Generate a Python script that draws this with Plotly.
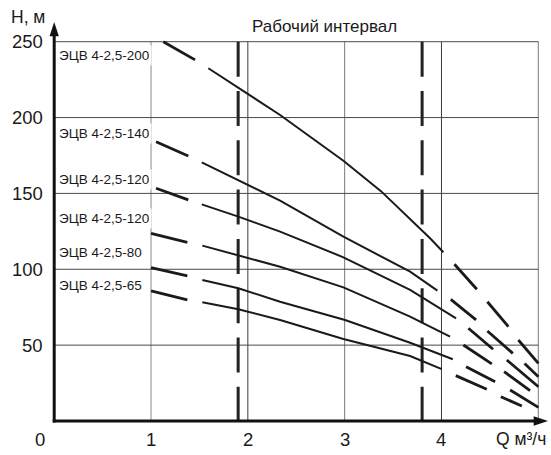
import plotly.graph_objects as go

# ---------------- data ----------------
x_tick_vals = [0, 1, 2, 3, 4]
x_tick_text = ["0", "1", "2", "3", "4"]
y_tick_vals = [50, 100, 150, 200, 250]
y_tick_text = ["50", "100", "150", "200", "250"]
grid_q = [1, 2, 3, 4, 5]
grid_h = [50, 100, 150, 200, 250]
q_max = 5
h_max = 250
interval_q = [1.9, 3.8]

names = ["ЭЦВ 4-2,5-200", "ЭЦВ 4-2,5-140", "ЭЦВ 4-2,5-120",
         "ЭЦВ 4-2,5-120", "ЭЦВ 4-2,5-80", "ЭЦВ 4-2,5-65"]
label_h = [240.8, 189.6, 158.9, 133.6, 110.9, 89.2]

# solid (working) parts of the curves
c200_solid_q = [1.592, 2.333, 2.987, 3.375, 3.882, 4.020]
c200_solid_h = [232.5, 201.7, 171.5, 151.5, 120.4, 111.2]
c140_solid_q = [1.524, 1.919, 2.333, 2.987, 3.676, 3.958]
c140_solid_h = [170.5, 158.4, 145.2, 121.5, 98.4, 85.9]
c120a_solid_q = [1.524, 1.902, 2.333, 2.987, 3.676, 4.151]
c120a_solid_h = [142.8, 134.7, 124.8, 107.9, 86.4, 67.7]
c120b_solid_q = [1.530, 1.902, 2.333, 2.987, 3.676, 3.882, 4.089]
c120b_solid_h = [115.6, 109.0, 101.7, 88.1, 68.8, 62.2, 55.6]
c80_solid_q = [1.530, 1.902, 2.333, 3.004, 3.676, 4.117]
c80_solid_h = [92.9, 87.5, 78.6, 66.6, 51.6, 40.7]
c65_solid_q = [1.530, 1.902, 2.333, 2.987, 3.676, 4.003]
c65_solid_h = [78.2, 73.6, 66.6, 54.0, 42.8, 34.2]

# dashed (out of range) parts: dash segments separated by None
c200_dash_q = [1.127, 1.455, None, 4.134, 4.365, None, 4.474, 4.691, None, 4.794, 5.001]
c200_dash_h = [250.0, 238.0, None, 103.3, 86.8, None, 78.6, 62.2, None, 53.4, 38.0]
c140_dash_q = [1.052, 1.385, None, 4.096, 4.357, None, 4.474, 4.737, None, 4.858, 5.001]
c140_dash_h = [184.1, 174.7, None, 80.2, 66.6, None, 59.3, 44.6, None, 37.9, 29.2]
c120a_dash_q = [1.052, 1.385, None, 4.278, 4.533, None, 4.675, 5.001]
c120a_dash_h = [153.4, 145.7, None, 61.1, 47.3, None, 40.2, 22.6]
c120b_dash_q = [1.000, 1.375, None, 4.226, 4.520, None, 4.647, 4.915]
c120b_dash_h = [123.7, 117.8, None, 50.1, 37.6, None, 32.5, 20.0]
c80_dash_q = [1.000, 1.375, None, 4.254, 4.554, None, 4.709, 5.001]
c80_dash_h = [101.1, 95.6, None, 35.8, 25.9, None, 20.4, 9.0]
c65_dash_q = [1.000, 1.375, None, 4.148, 4.468, None, 4.613, 4.830]
c65_dash_h = [85.7, 79.8, None, 29.9, 20.9, None, 16.0, 9.9]

solids = [(c200_solid_q, c200_solid_h), (c140_solid_q, c140_solid_h),
          (c120a_solid_q, c120a_solid_h), (c120b_solid_q, c120b_solid_h),
          (c80_solid_q, c80_solid_h), (c65_solid_q, c65_solid_h)]
dashes = [(c200_dash_q, c200_dash_h), (c140_dash_q, c140_dash_h),
          (c120a_dash_q, c120a_dash_h), (c120b_dash_q, c120b_dash_h),
          (c80_dash_q, c80_dash_h), (c65_dash_q, c65_dash_h)]

x_arrow_tip = 5.10
y_arrow_tip = 263

# ---------------- figure ----------------
FONT = "Liberation Sans, Arial, Helvetica, sans-serif"
INK = "#1a1a1a"
grid_q_colors = ["#8a8a8a", "#3c3c3c", "#7a7a7a", "#3c3c3c", "#7a7a7a"]
fig = go.Figure()

# grid
for q, col in zip(grid_q, grid_q_colors):
    fig.add_trace(go.Scatter(x=[q, q], y=[0, h_max], mode="lines",
                             line=dict(color=col, width=1), hoverinfo="skip"))
for h in grid_h:
    fig.add_trace(go.Scatter(x=[0, q_max], y=[h, h], mode="lines",
                             line=dict(color="#4a4a4a", width=1), hoverinfo="skip"))

# working interval lines
for q in interval_q:
    fig.add_trace(go.Scatter(x=[q, q], y=[h_max, 0], mode="lines",
                             line=dict(color="#222222", width=3, dash="35px,14.3px"),
                             hoverinfo="skip"))

# curves
for (sq, sh), (dq, dh) in zip(solids, dashes):
    fig.add_trace(go.Scatter(x=sq, y=sh, mode="lines",
                             line=dict(color=INK, width=2), hoverinfo="skip"))
    fig.add_trace(go.Scatter(x=dq, y=dh, mode="lines", connectgaps=False,
                             line=dict(color=INK, width=2.8), hoverinfo="skip"))

# axes with arrows
fig.add_trace(go.Scatter(x=[0, 0], y=[-1, y_arrow_tip - 8], mode="lines",
                         line=dict(color="#111", width=3), hoverinfo="skip"))
fig.add_trace(go.Scatter(x=[-0.015, x_arrow_tip - 0.1], y=[0, 0], mode="lines",
                         line=dict(color="#111", width=3), hoverinfo="skip"))
fig.add_trace(go.Scatter(x=[0, x_arrow_tip], y=[y_arrow_tip, 0], mode="markers",
                         marker=dict(symbol="arrow", size=15, angle=[0, 90],
                                     color="#111", line=dict(width=0)),
                         hoverinfo="skip"))

ann = []
# y tick labels
for v, t in zip(y_tick_vals, y_tick_text):
    ann.append(dict(x=-0.095, y=v, text=t, xanchor="right", yanchor="middle",
                    font=dict(size=18.5, color=INK, family=FONT)))
# x tick labels
for v, t in zip(x_tick_vals, x_tick_text):
    xv = -0.147 if v == 0 else v
    ann.append(dict(x=xv, y=-12.5, text=t, xanchor="center", yanchor="middle",
                    font=dict(size=18.5, color=INK, family=FONT)))
# axis titles
ann.append(dict(x=-0.464, y=266, text="H, м", xanchor="left", yanchor="middle",
                font=dict(size=17.5, color=INK, family=FONT)))
ann.append(dict(x=4.543, y=-12, text="Q м³/ч", xanchor="left", yanchor="middle",
                font=dict(size=17.5, color=INK, family=FONT)))
ann.append(dict(x=2.794, y=259.9, text="Рабочий интервал", xanchor="center",
                yanchor="middle", font=dict(size=17, color=INK, family=FONT)))
# series labels
for n, h in zip(names, label_h):
    ann.append(dict(x=0.02, y=h, text=n, xanchor="left", yanchor="middle",
                    bgcolor="white", borderpad=2,
                    font=dict(size=13.5, color=INK, family=FONT)))
for a in ann:
    a.update(showarrow=False, xref="x", yref="y")

fig.update_layout(
    width=551, height=455,
    margin=dict(l=0, r=0, t=0, b=0),
    paper_bgcolor="white", plot_bgcolor="white",
    showlegend=False,
    xaxis=dict(range=[-0.5598, 5.1312], visible=False, fixedrange=True),
    yaxis=dict(range=[-22.41, 277.48], visible=False, fixedrange=True),
    annotations=ann,
)

fig.write_html("out.html", config={"displayModeBar": False},
               post_script="document.body.style.margin='0';")
